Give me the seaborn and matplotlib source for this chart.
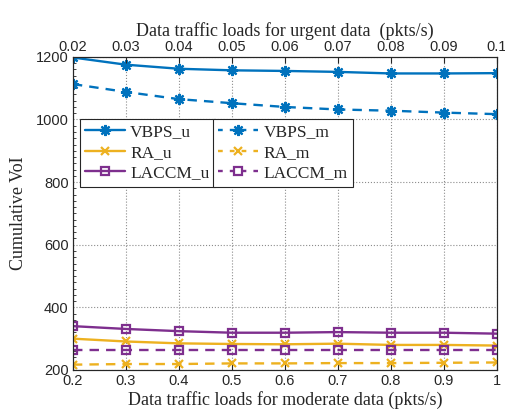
#!/usr/bin/env python3
# Cumulative VoI vs data traffic load (urgent / moderate)

import numpy as np
import pandas as pd
import seaborn as sns
import matplotlib.pyplot as plt
from matplotlib.ticker import MultipleLocator
from matplotlib.lines import Line2D

# data
moderate_load = [0.2, 0.3, 0.4, 0.5, 0.6, 0.7, 0.8, 0.9, 1.0]
urgent_load = [0.02, 0.03, 0.04, 0.05, 0.06, 0.07, 0.08, 0.09, 0.1]

vbps_u = [1198, 1175, 1162, 1157, 1155, 1152, 1147, 1147, 1148]
ra_u = [300, 291, 285, 283, 282, 284, 280, 280, 278]
laccm_u = [340, 331, 324, 319, 319, 321, 319, 319, 316]
vbps_m = [1113, 1088, 1065, 1052, 1040, 1032, 1028, 1022, 1017]
ra_m = [217, 219, 219, 221, 221, 222, 222, 223, 224]
laccm_m = [263, 263, 263, 263, 263, 263, 263, 263, 263]

blue = "#0072BD"
orange = "#EDB120"
purple = "#7E2F8E"

asterisk = (8, 2, 0)
series = [
    ("VBPS_u", vbps_u, blue, "-", asterisk),
    ("RA_u", ra_u, orange, "-", "x"),
    ("LACCM_u", laccm_u, purple, "-", "s"),
    ("VBPS_m", vbps_m, blue, "--", asterisk),
    ("RA_m", ra_m, orange, "--", "x"),
    ("LACCM_m", laccm_m, purple, "--", "s"),
]
msize = {"x": 5.5, "s": 5.8}

sns.set_style("white")
plt.rcParams["font.family"] = ["Liberation Sans", "DejaVu Sans"]
serif = ["Liberation Serif", "DejaVu Serif"]
txt = "#262626"

fig = plt.figure(figsize=(5.06, 4.12), dpi=100)
ax = fig.add_axes([0.144, 0.102, 0.838, 0.760])


def style(mk, col):
    return dict(marker=mk, markersize=msize.get(mk, 8),
                markerfacecolor="none" if mk == "s" else col,
                markeredgecolor=col, markeredgewidth=1.6)


handles = []
for name, vals, col, ls, mk in series:
    df = pd.DataFrame({"load": moderate_load, "voi": vals})
    sns.lineplot(data=df, x="load", y="voi", ax=ax, color=col, linewidth=1.7,
                 dashes=False, linestyle=ls, **style(mk, col))
    if ls == "--":
        ax.lines[-1].set_dashes((4, 3))
    h = Line2D([], [], color=col, linestyle=ls, linewidth=1.7, label=name,
               **style(mk, col))
    if ls == "--":
        h.set_dashes((2, 3))
    handles.append(h)

ax.set_xlim(0.2, 1.0)
ax.set_ylim(200, 1200)
ax.set_xticks(moderate_load)
ax.set_xticklabels(["0.2", "0.3", "0.4", "0.5", "0.6", "0.7", "0.8", "0.9", "1"])
ax.set_yticks([200, 400, 600, 800, 1000, 1200])
ax.yaxis.set_minor_locator(MultipleLocator(20))
ax.grid(True, which="major", linestyle=":", linewidth=0.8, color="#8c8c8c")
ax.tick_params(axis="both", which="major", direction="in", length=4,
               labelsize=10.5, colors=txt, pad=3)
ax.tick_params(axis="y", which="minor", direction="in", length=2,
               color=txt, left=True)
for sp in ax.spines.values():
    sp.set_color(txt)
    sp.set_linewidth(0.8)

ax.set_xlabel("Data traffic loads for moderate data (pkts/s)", family=serif,
              fontsize=13, color=txt, labelpad=2)
ax.set_ylabel("Cumulative VoI", family=serif, fontsize=13, color=txt,
              labelpad=6)

# top axis for urgent data
top = ax.twiny()
top.set_xlim(0.02, 0.1)
top.set_xticks(urgent_load)
top.set_xticklabels(["0.02", "0.03", "0.04", "0.05", "0.06", "0.07", "0.08",
                     "0.09", "0.1"])
top.tick_params(axis="x", direction="in", length=4, labelsize=10.5,
                colors=txt, pad=2)
top.set_xlabel("Data traffic loads for urgent data  (pkts/s)", family=serif,
               fontsize=13, color=txt, labelpad=3)
for sp in top.spines.values():
    sp.set_color(txt)
    sp.set_linewidth(0.8)

leg_kw = dict(loc="upper left", frameon=True, fancybox=False,
              prop={"family": serif, "size": 12.5}, handlelength=2.3,
              handletextpad=0.3, labelspacing=0.25, borderpad=0.3,
              borderaxespad=0, edgecolor="#262626", framealpha=1)
leg1 = top.legend(handles=handles[:3], bbox_to_anchor=(0.158, 0.711),
                  bbox_transform=fig.transFigure, **leg_kw)
leg1.get_frame().set_linewidth(0.8)
top.add_artist(leg1)
leg2 = top.legend(handles=handles[3:], bbox_to_anchor=(0.421, 0.711),
                  bbox_transform=fig.transFigure, **leg_kw)
leg2.get_frame().set_linewidth(0.8)

fig.savefig("out.png", dpi=100)
